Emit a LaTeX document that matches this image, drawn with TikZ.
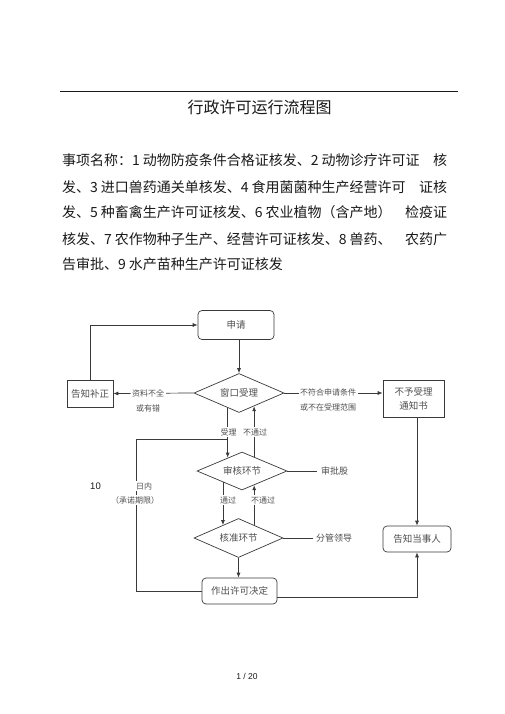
\documentclass[tikz,border=0pt]{standalone}
\usepackage{fontspec}
\setmainfont{Noto Sans CJK SC}
\newfontfamily\lat{Liberation Sans}
\usetikzlibrary{shapes.geometric,arrows.meta,calc}
\definecolor{lc}{HTML}{3A3A3A}
\definecolor{tc}{HTML}{505050}
\definecolor{bc}{HTML}{1A1A1A}
\begin{document}
\begin{tikzpicture}[x=1pt,y=-1pt,
  ln/.style={draw=lc, line width=0.7pt},
  arr/.style={ln, -{Latex[length=5pt,width=4pt]}},
  box/.style={draw=lc, line width=0.7pt, rectangle, inner sep=0pt, font=\fontsize{9.5}{14}\selectfont, text=tc, align=center},
  rbox/.style={box, rounded corners=4pt},
  dia/.style={draw=lc, line width=0.7pt, diamond, aspect=2.3, inner sep=0pt, font=\fontsize{9.5}{12}\selectfont, text=tc},
  lbl/.style={fill=white, inner sep=1.5pt, font=\fontsize{8}{15}\selectfont, text=tc, align=center},
  body/.style={anchor=west, inner sep=0pt, font=\fontsize{14}{14}\selectfont, text=bc},
]
\useasboundingbox[fill=white] (0,0) rectangle (505,714);

% header rule and title
\coordinate (r1) at (60,91);
\coordinate (r2) at (458,91);
\draw[line width=0.8pt, bc] (r1) -- (r2);
\node[font=\fontsize{16}{16}\selectfont, text=bc] (title) at (259.5,107) {行政许可运行流程图};

% body text
\node[body] (l1) at (62,160) {\makebox[385pt][l]{事项名称：1\hspace{3pt}动物防疫条件合格证核发、2\hspace{3pt}动物诊疗许可证\hfill 核}};
\node[body] (l2) at (62,187) {\makebox[385pt][l]{发、3\hspace{3pt}进口兽药通关单核发、4\hspace{3pt}食用菌菌种生产经营许可\hfill 证核}};
\node[body] (l3) at (62,212) {\makebox[385pt][l]{发、5\hspace{3pt}种畜禽生产许可证核发、6\hspace{3pt}农业植物（含产地）\hfill 检疫证}};
\node[body] (l4) at (62,239) {\makebox[385pt][l]{核发、7\hspace{3pt}农作物种子生产、经营许可证核发、8\hspace{3pt}兽药、\hfill 农药广}};
\node[body] (l5) at (62,264) {告审批、9\hspace{3pt}水产苗种生产许可证核发};

% flowchart nodes
\node[rbox, minimum width=76pt, minimum height=29pt] (sq) at (236,325) {申请};
\node[dia, minimum width=90pt, minimum height=39pt] (wc) at (239,393) {窗口受理};
\node[box, minimum width=46pt, minimum height=27pt] (bz) at (90,393.5) {告知补正};
\node[box, minimum width=61pt, minimum height=37pt] (bys) at (413.5,398.5) {不予受理\\通知书};
\node[dia, minimum width=90pt, minimum height=38pt] (sh) at (242,471) {审核环节};
\node[dia, minimum width=89pt, minimum height=39pt] (hz) at (238.5,538) {核准环节};
\node[rbox, minimum width=75pt, minimum height=26pt] (zc) at (239.5,591) {作出许可决定};
\node[rbox, minimum width=68pt, minimum height=26pt] (gz) at (417,539) {告知当事人};

% connectors
\draw[arr] (wc.north |- sq.south) -- (wc.north);
\draw[arr] (bz.north) |- (sq.west);
\draw[arr] (wc.west) -- (bz.west -| bz.east);
\draw[arr] (wc.east) -- (bys.west |- wc.east);
\draw[arr] (gz.north |- bys.south) -- (gz.north);
\draw[arr] ($(zc.east)+(0,6)$) -| (gz.south);

\coordinate (a1) at ($(wc.south)!0.25!(wc.west)$);
\coordinate (a2) at ($(sh.north)!0.31!(sh.west)$);
\draw[arr] (a1) -- (a1 |- a2);
\coordinate (b1) at ($(sh.north)!0.267!(sh.east)$);
\coordinate (b2) at ($(wc.south)!0.333!(wc.east)$);
\draw[arr] (b1) -- (b1 |- b2);
\coordinate (c1) at ($(sh.south)!0.42!(sh.west)$);
\coordinate (c2) at ($(hz.north)!0.35!(hz.west)$);
\draw[arr] (c1) -- (c1 |- c2);
\coordinate (d1) at ($(hz.north)!0.35!(hz.east)$);
\coordinate (d2) at ($(sh.south)!0.267!(sh.east)$);
\draw[arr] (d1) -- (d1 |- d2);
\draw[arr] (hz.south) -- (hz.south |- zc.north);

\node[lbl, font=\fontsize{9}{12}\selectfont, inner sep=0pt, anchor=west] (spg) at (321,471) {审批股};
\node[lbl, font=\fontsize{9}{12}\selectfont, inner sep=0pt, anchor=west] (fgld) at (316,538) {分管领导};
\draw[ln] (sh.east) -- ($(spg.west)+(-4,0)$);
\draw[ln] (hz.east) -- ($(fgld.west)+(-3,0)$);

\coordinate (lp) at (136,439);
\draw[ln] (zc.west) -| (lp) -- (a1 |- lp);

% labels on connectors
\node[lbl] (t1) at (148,400.5) {资料不全\\或有错};
\node[lbl] (t2) at (328,400) {不符合申请条件\\或不在受理范围};
\node[lbl] (t3) at (228.5,432) {受理};
\node[lbl] (t4) at (255,432) {不通过};
\node[lbl] (t5) at (228,500) {通过};
\node[lbl] (t6) at (263,500) {不通过};
\node[lbl] (t7) at (144,486) {日内};
\node[lbl] (t8) at (135,500) {（承诺期限）};
\node[font=\lat\fontsize{9.5}{10}\selectfont, text=bc] (ten) at (95.5,486) {10};

\node[font=\lat\fontsize{8.5}{9}\selectfont, text=bc] (pg) at (247,676) {1 / 20};
\end{tikzpicture}
\end{document}
